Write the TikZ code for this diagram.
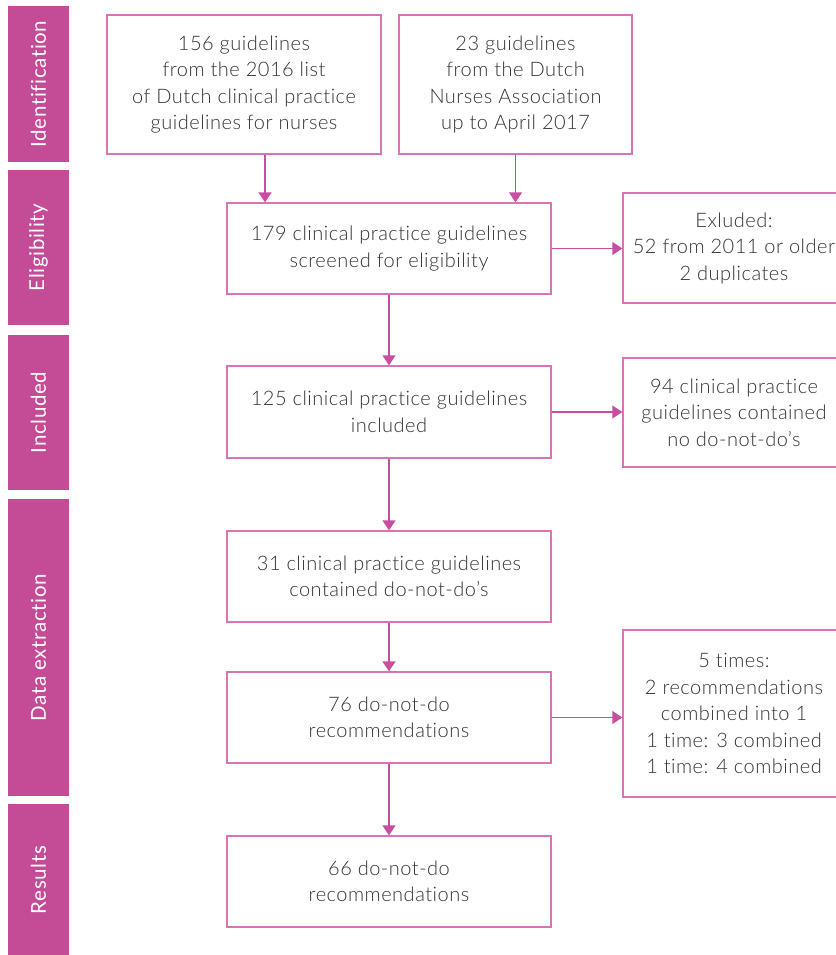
\documentclass[tikz,border=0pt]{standalone}
\usepackage{fontspec}
\setmainfont{Lato Light}[LetterSpace=2.5,Ligatures={NoCommon,NoRare}]
\newfontfamily\stagefont{Lato}[LetterSpace=3,Ligatures={NoCommon,NoRare}]
\usetikzlibrary{arrows.meta}

\definecolor{bar}{HTML}{C44B96}
\definecolor{frame}{HTML}{D774B5}
\definecolor{link}{HTML}{C94DA0}
\definecolor{txt}{HTML}{333333}

\tikzset{
  stage/.style={fill=bar, draw=none, text=white, rotate=90, inner sep=0pt,
    font=\stagefont\fontsize{20.5}{24}\selectfont, minimum height=61pt},
  box/.style={draw=frame, line width=1.3pt, text=txt, align=center, inner sep=0pt,
    font=\fontsize{20}{26.5}\selectfont},
  flow/.style={draw=link, line width=1.3pt,
    -{Triangle[width=13pt,length=10pt]}},
}

\begin{document}
\begin{tikzpicture}[x=1pt,y=-1pt]
  \useasboundingbox (0,0) rectangle (835,955);

  % stage bars on the left
  \node[stage, minimum width=156pt] (sId)  at (38.5,84)    {Identification};
  \node[stage, minimum width=155pt] (sEl)  at (38.5,247.5) {Eligibility};
  \node[stage, minimum width=155pt] (sIn)  at (38.5,412.5) {Included};
  \node[stage, minimum width=297pt] (sDa)  at (38.5,647.5) {Data extraction};
  \node[stage, minimum width=152pt] (sRe)  at (38.5,880)   {Results};

  % main flow
  \node[box, minimum width=274pt, minimum height=139pt] (b1) at (244,84.5)
    {156 guidelines\\from the 2016 list\\of Dutch clinical practice\\guidelines for nurses};
  \node[box, minimum width=233pt, minimum height=139pt] (b2) at (515.5,84.5)
    {23 guidelines\\from the Dutch\\Nurses Association\\up to April 2017};
  \node[box, minimum width=324pt, minimum height=91pt] (b3) at (389,248.5)
    {179 clinical practice guidelines\\screened for eligibility};
  \node[box, minimum width=324pt, minimum height=92pt] (b4) at (389,412)
    {125 clinical practice guidelines\\included};
  \node[box, minimum width=324pt, minimum height=91pt] (b5) at (389,576.5)
    {31 clinical practice guidelines\\contained do-not-do’s};
  \node[box, minimum width=324pt, minimum height=91pt] (b6) at (389,717.5)
    {76 do-not-do\\recommendations};
  \node[box, minimum width=324pt, minimum height=91pt] (b7) at (389,881.5)
    {66 do-not-do\\recommendations};

  % side boxes
  \node[box, minimum width=222pt, minimum height=110pt] (x1) at (734,248)
    {Exluded:\\52 from 2011 or older\\2 duplicates};
  \node[box, minimum width=222pt, minimum height=109pt] (x2) at (734,412.5)
    {94 clinical practice\\guidelines contained\\no do-not-do’s};
  \node[box, minimum width=222pt, minimum height=167pt] (x3) at (734,713.5)
    {5 times:\\2 recommendations\\combined into 1\\1 time: 3 combined\\1 time: 4 combined};

  % connectors
  \coordinate (d1) at (265,0);
  \draw[flow] (b1.south -| d1) -- (b3.north -| d1);
  \draw[flow] (b2.south) -- (b2.south |- b3.north);
  \draw[flow] (b3.south) -- (b4.north);
  \draw[flow] (b4.south) -- (b5.north);
  \draw[flow] (b5.south) -- (b6.north);
  \draw[flow] (b6.south) -- (b7.north);
  \draw[flow] (b3.east) -- (b3.east -| x1.west);
  \draw[flow] (b4.east) -- (b4.east -| x2.west);
  \draw[flow] (b6.east) -- (b6.east -| x3.west);
\end{tikzpicture}
\end{document}
